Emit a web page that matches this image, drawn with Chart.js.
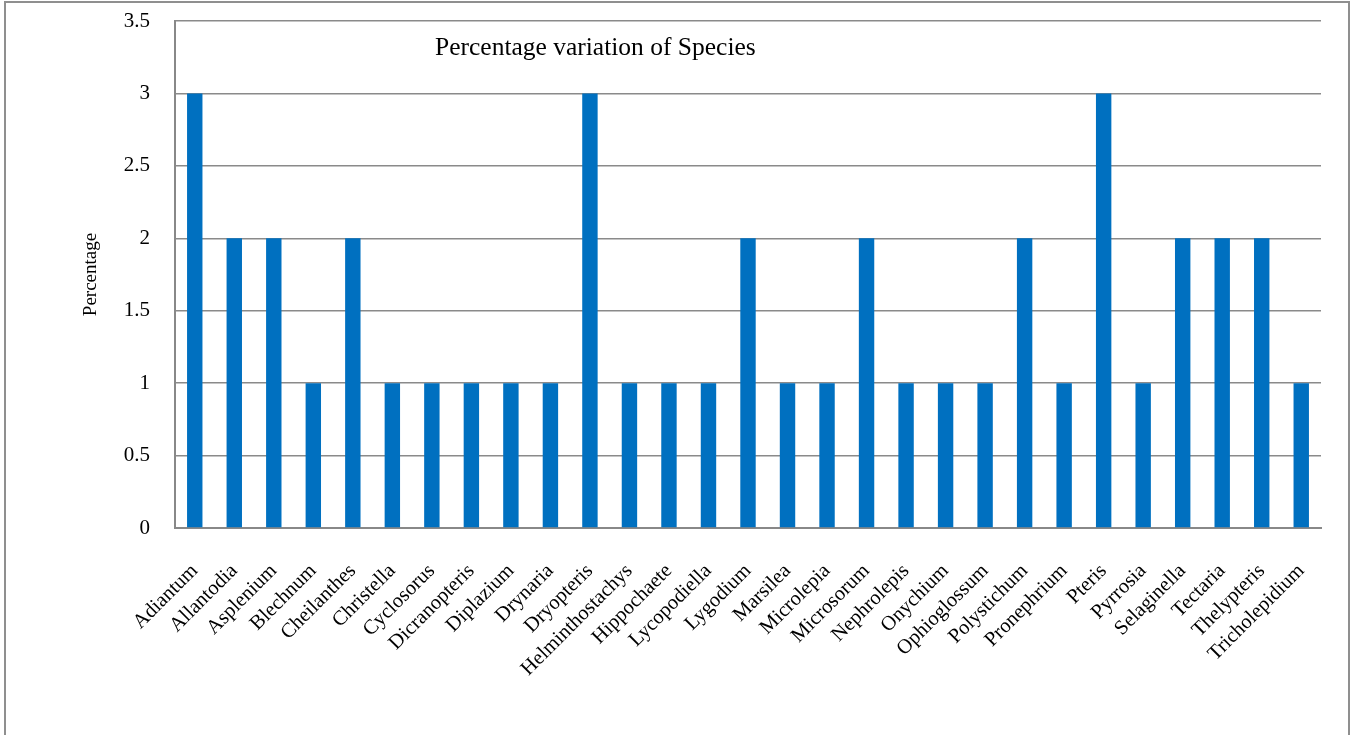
<!DOCTYPE html>
<html>
<head>
<meta charset="utf-8">
<script src="https://cdn.jsdelivr.net/npm/chart.js@4"></script>
<style>
  html, body { margin: 0; padding: 0; background: #fff; overflow: hidden; }
  #wrap { position: relative; width: 1356px; height: 735px; }
  #frame { position: absolute; left: 4px; top: 1px; width: 1346px; height: 800px; border: 2px solid #8f8f8f; box-sizing: border-box; pointer-events: none; }
  canvas { position: absolute; left: 0; top: 0; }
</style>
</head>
<body>
<div id="wrap">
  <canvas id="c" width="1356" height="735"></canvas>
  <div id="frame"></div>
</div>
<script>
const categories = ["Adiantum","Allantodia","Asplenium","Blechnum","Cheilanthes","Christella","Cyclosorus","Dicranopteris","Diplazium","Drynaria","Dryopteris","Helminthostachys","Hippochaete","Lycopodiella","Lygodium","Marsilea","Microlepia","Microsorum","Nephrolepis","Onychium","Ophioglossum","Polystichum","Pronephrium","Pteris","Pyrrosia","Selaginella","Tectaria","Thelypteris","Tricholepidium"];
const percentages = [3,2,2,1,2,1,1,1,1,1,3,1,1,1,2,1,1,2,1,1,1,2,1,3,1,2,2,2,1];
const yTickValues = [0,0.5,1,1.5,2,2.5,3,3.5];
const chartTitle = "Percentage variation of Species";
const yAxisTitle = "Percentage";

const FONT = "'Liberation Serif', 'Times New Roman', serif";

const innerTitle = {
  id: 'innerTitle',
  afterDraw(chart) {
    const ctx = chart.ctx;
    ctx.save();
    ctx.font = "25.5px " + FONT;
    ctx.fillStyle = "#000";
    ctx.textAlign = "left";
    ctx.textBaseline = "alphabetic";
    ctx.fillText(chartTitle, chart.chartArea.left + 260, chart.chartArea.top + 34);
    ctx.restore();
  }
};

new Chart(document.getElementById('c'), {
  type: 'bar',
  data: {
    labels: categories,
    datasets: [{
      data: percentages,
      backgroundColor: '#0070C0',
      borderWidth: 0,
      categoryPercentage: 1.0,
      barPercentage: 0.39
    }]
  },
  options: {
    responsive: false,
    animation: false,
    events: [],
    layout: { padding: { left: 0, top: 21, right: 35, bottom: 0 } },
    plugins: { legend: { display: false }, tooltip: { enabled: false }, title: { display: false } },
    scales: {
      x: {
        grid: { display: false, drawTicks: false },
        border: { display: true, color: '#888888', width: 2 },
        ticks: {
          autoSkip: false, minRotation: 45, maxRotation: 45, padding: 31,
          color: '#000', font: { family: FONT, size: 20.5 }
        },
        afterFit(scale) { scale.height = 207; scale.paddingTop = 0; scale.paddingBottom = 0; }
      },
      y: {
        min: 0, max: 3.5,
        afterBuildTicks(scale) { scale.ticks = yTickValues.map(v => ({ value: v })); },
        grid: { color: '#8a8a8a', lineWidth: 1.5, drawTicks: false },
        border: { display: true, color: '#888888', width: 2 },
        ticks: {
          padding: 25, color: '#000', font: { family: FONT, size: 21 },
          callback: v => String(v)
        },
        title: {
          display: true, text: yAxisTitle, color: '#000',
          font: { family: FONT, size: 19 }, padding: { top: 80, bottom: 0 }
        },
        afterFit(scale) { scale.width = 175; scale.paddingTop = 0; scale.paddingBottom = 0; }
      }
    }
  },
  plugins: [innerTitle]
});
</script>
</body>
</html>
